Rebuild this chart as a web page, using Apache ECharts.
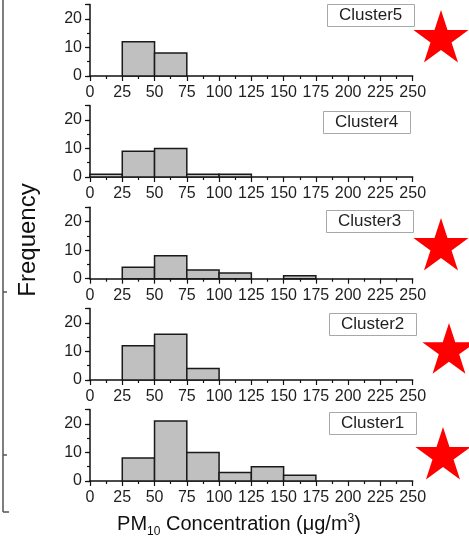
<!DOCTYPE html>
<html>
<head>
<meta charset="utf-8">
<script src="https://cdn.jsdelivr.net/npm/echarts@6/dist/echarts.min.js"></script>
<style>
  html, body { margin: 0; padding: 0; background: #fff; }
  #chart { width: 469px; height: 543px; }
</style>
</head>
<body>
<div id="chart"></div>
<script>
// histogram data, top panel first
const clusters = ['Cluster5', 'Cluster4', 'Cluster3', 'Cluster2', 'Cluster1'];
const binStarts = [0, 25, 50, 75, 100, 125, 150, 175, 200, 225];
const binWidth = 25;
const cluster5 = [0, 12, 8, 0, 0, 0, 0, 0, 0, 0];
const cluster4 = [1, 9, 10, 1, 1, 0, 0, 0, 0, 0];
const cluster3 = [0, 4, 8, 3, 2, 0, 1, 0, 0, 0];
const cluster2 = [0, 12, 16, 4, 0, 0, 0, 0, 0, 0];
const cluster1 = [0, 8, 21, 10, 3, 5, 2, 0, 0, 0];
const counts = [cluster5, cluster4, cluster3, cluster2, cluster1];
const starred = [true, false, true, true, true];

const font = 'Liberation Sans, Arial, sans-serif';
const textColor = '#1e1e1e';

// layout (px)
const baselines = [76, 177, 278.7, 380, 481];
const panelHeight = 71.5;
const boxPos = [[327, 4], [323, 111], [326, 210], [329, 313], [329, 412]];
const starPos = [[441, 39, 29], null, [441, 247, 29], [449, 351, 28], [443, 456, 29]];

function starPoints(cx, cy, r) {
  const pts = [];
  for (let k = 0; k < 10; k++) {
    const rr = k % 2 ? r * 0.382 : r;
    const a = -Math.PI / 2 + k * Math.PI / 5;
    pts.push([cx + rr * Math.cos(a), cy + rr * Math.sin(a)]);
  }
  return pts;
}

function renderBin(params, api) {
  const count = api.value(2);
  if (!count) return;
  const p0 = api.coord([api.value(0), count]);
  const p1 = api.coord([api.value(1), 0]);
  return {
    type: 'rect',
    shape: { x: p0[0], y: p0[1], width: p1[0] - p0[0], height: p1[1] - p0[1] },
    style: { fill: '#c0c0c0', stroke: '#1a1a1a', lineWidth: 1.5 }
  };
}

const grid = [], xAxis = [], yAxis = [], series = [], title = [], graphic = [];

clusters.forEach((name, i) => {
  grid.push({ left: 90, right: 56.3, top: baselines[i] - panelHeight, height: panelHeight });

  xAxis.push({
    gridIndex: i, type: 'value', min: 0, max: 250, interval: 25,
    axisLine: { lineStyle: { color: '#111', width: 1.5 } },
    axisTick: { length: 5, lineStyle: { color: '#111', width: 1.2 } },
    minorTick: { show: true, splitNumber: 2, length: 3, lineStyle: { color: '#111', width: 1.2 } },
    axisLabel: { fontSize: 16, color: textColor, fontFamily: font, margin: 9 },
    splitLine: { show: false }
  });

  // major ticks + labels
  yAxis.push({
    gridIndex: i, type: 'value', min: 0, max: 25, interval: 10, position: 'left',
    axisLine: { show: true, lineStyle: { color: '#111', width: 1.5 } },
    axisTick: { show: true, length: 5, lineStyle: { color: '#111', width: 1.2 } },
    axisLabel: {
      fontSize: 16, color: textColor, fontFamily: font, margin: 8,
      formatter: v => (v % 10 === 0 ? String(v) : '')
    },
    splitLine: { show: false }
  });
  // minor ticks every 5
  yAxis.push({
    gridIndex: i, type: 'value', min: 0, max: 25, interval: 5, position: 'left',
    axisLine: { show: false },
    axisTick: { show: true, length: 3, lineStyle: { color: '#111', width: 1.2 } },
    axisLabel: { show: false },
    splitLine: { show: false }
  });

  series.push({
    type: 'custom',
    name: name,
    xAxisIndex: i,
    yAxisIndex: i * 2,
    renderItem: renderBin,
    encode: { x: [0, 1], y: 2 },
    data: binStarts.map((s, k) => [s, s + binWidth, counts[i][k]])
  });

  title.push({
    text: name,
    left: boxPos[i][0], top: boxPos[i][1],
    padding: [3, 12],
    borderColor: '#a8a8a8', borderWidth: 1,
    textStyle: { fontSize: 17, fontWeight: 'normal', color: textColor, fontFamily: font, lineHeight: 17 }
  });

  if (starred[i]) {
    const s = starPos[i];
    graphic.push({
      type: 'polygon',
      shape: { points: starPoints(s[0], s[1], s[2]) },
      style: { fill: '#ff0000' }
    });
  }
});

graphic.push({
  type: 'text', x: 28, y: 240, rotation: Math.PI / 2,
  style: {
    text: 'Frequency', fontSize: 24, fontFamily: font, fill: '#111',
    align: 'center', verticalAlign: 'middle'
  }
});

graphic.push({
  type: 'text', x: 239, y: 524,
  style: {
    text: 'PM{sub|10} Concentration (μg/m{sup|3})',
    fontSize: 20, fontFamily: font, fill: '#111',
    align: 'center', verticalAlign: 'middle',
    rich: {
      sub: { fontSize: 12, fontFamily: font, fill: '#111', padding: [15, 0, 0, 0] },
      sup: { fontSize: 12, fontFamily: font, fill: '#111', padding: [0, 0, 11, 0] }
    }
  }
});

// cropped frame edge on the left
const edge = { stroke: '#555', lineWidth: 1.5 };
graphic.push({ type: 'line', shape: { x1: 3, y1: 0, x2: 3, y2: 512 }, style: edge });
graphic.push({ type: 'line', shape: { x1: 3, y1: 292, x2: 7, y2: 292 }, style: edge });
graphic.push({ type: 'line', shape: { x1: 3, y1: 455, x2: 7, y2: 455 }, style: edge });
graphic.push({ type: 'line', shape: { x1: 3, y1: 512, x2: 9, y2: 512 }, style: edge });

const chart = echarts.init(document.getElementById('chart'), null, { renderer: 'canvas' });
chart.setOption({
  animation: false,
  backgroundColor: '#fff',
  title: title,
  grid: grid,
  xAxis: xAxis,
  yAxis: yAxis,
  series: series,
  graphic: graphic
});
</script>
</body>
</html>
